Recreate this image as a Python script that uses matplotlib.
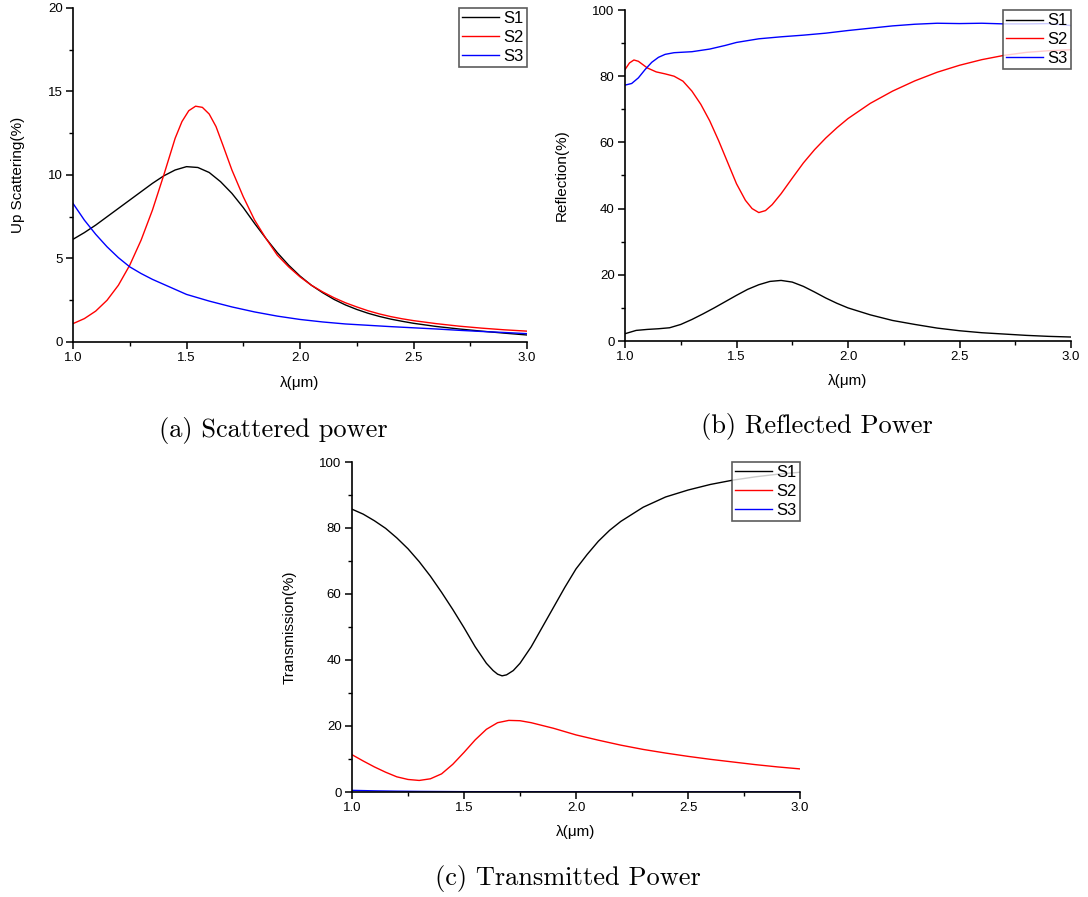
import matplotlib
matplotlib.use("Agg")
import matplotlib.pyplot as plt
from matplotlib.ticker import MultipleLocator, FormatStrFormatter

plt.rcParams['font.family'] = ['Liberation Sans', 'DejaVu Sans']

# ---------------- data ----------------
# (a) Up scattering
a_s1_x = [1.00, 1.05, 1.10, 1.15, 1.20, 1.25, 1.30, 1.35, 1.40, 1.45, 1.50, 1.55, 1.60, 1.65,
          1.70, 1.75, 1.80, 1.85, 1.90, 1.95, 2.00, 2.05, 2.10, 2.15, 2.20, 2.25, 2.30, 2.35,
          2.40, 2.45, 2.50, 2.60, 2.70, 2.80, 2.90, 3.00]
a_s1_y = [6.15, 6.55, 7.0, 7.5, 8.0, 8.5, 9.0, 9.5, 9.95, 10.3, 10.5, 10.45, 10.15, 9.6,
          8.9, 8.05, 7.1, 6.2, 5.35, 4.6, 3.95, 3.4, 2.95, 2.55, 2.22, 1.95, 1.72, 1.53,
          1.37, 1.24, 1.12, 0.93, 0.78, 0.65, 0.53, 0.42]
a_s2_x = [1.00, 1.05, 1.10, 1.15, 1.20, 1.25, 1.30, 1.35, 1.40, 1.45, 1.48, 1.51, 1.54, 1.57,
          1.60, 1.63, 1.66, 1.70, 1.75, 1.80, 1.85, 1.90, 1.95, 2.00, 2.05, 2.10, 2.15, 2.20,
          2.25, 2.30, 2.35, 2.40, 2.45, 2.50, 2.60, 2.70, 2.80, 2.90, 3.00]
a_s2_y = [1.1, 1.4, 1.85, 2.5, 3.4, 4.6, 6.1, 7.9, 10.0, 12.2, 13.2, 13.85, 14.12, 14.05,
          13.65, 12.9, 11.8, 10.3, 8.7, 7.3, 6.2, 5.2, 4.5, 3.9, 3.4, 3.0, 2.65, 2.35,
          2.1, 1.87, 1.68, 1.52, 1.39, 1.28, 1.1, 0.95, 0.83, 0.73, 0.65]
a_s3_x = [1.00, 1.05, 1.10, 1.15, 1.20, 1.25, 1.30, 1.35, 1.40, 1.45, 1.50, 1.60, 1.70, 1.80,
          1.90, 2.00, 2.10, 2.20, 2.30, 2.40, 2.50, 2.60, 2.70, 2.80, 2.90, 3.00]
a_s3_y = [8.3, 7.3, 6.45, 5.7, 5.05, 4.5, 4.1, 3.75, 3.45, 3.15, 2.85, 2.45, 2.1, 1.8,
          1.55, 1.35, 1.2, 1.08, 1.0, 0.92, 0.85, 0.78, 0.7, 0.63, 0.57, 0.5]

# (b) Reflection
b_s1_x = [1.00, 1.05, 1.10, 1.15, 1.20, 1.25, 1.30, 1.35, 1.40, 1.45, 1.50, 1.55, 1.60, 1.65,
          1.70, 1.75, 1.80, 1.85, 1.90, 1.95, 2.00, 2.10, 2.20, 2.30, 2.40, 2.50, 2.60, 2.70,
          2.80, 2.90, 3.00]
b_s1_y = [2.2, 3.2, 3.5, 3.7, 4.0, 5.0, 6.5, 8.2, 10.0, 11.9, 13.8, 15.6, 17.0, 18.0,
          18.3, 17.8, 16.5, 14.8, 13.0, 11.4, 10.0, 7.9, 6.2, 5.0, 3.9, 3.1, 2.5, 2.1,
          1.7, 1.4, 1.2]
b_s2_x = [1.00, 1.02, 1.04, 1.06, 1.08, 1.10, 1.14, 1.18, 1.22, 1.26, 1.30, 1.34, 1.38, 1.42,
          1.46, 1.50, 1.54, 1.57, 1.60, 1.63, 1.66, 1.70, 1.75, 1.80, 1.85, 1.90, 1.95, 2.00,
          2.10, 2.20, 2.30, 2.40, 2.50, 2.60, 2.70, 2.80, 2.90, 3.00]
b_s2_y = [82.0, 84.0, 84.9, 84.5, 83.5, 82.5, 81.3, 80.7, 80.0, 78.5, 75.5, 71.5, 66.5, 60.5,
          54.0, 47.5, 42.5, 40.0, 38.8, 39.4, 41.2, 44.5, 49.2, 53.8, 57.8, 61.3, 64.4, 67.2,
          71.8, 75.5, 78.6, 81.2, 83.3, 85.0, 86.3, 87.2, 87.7, 88.0]
b_s3_x = [1.00, 1.03, 1.06, 1.09, 1.12, 1.15, 1.18, 1.22, 1.30, 1.38, 1.45, 1.50, 1.60, 1.70,
          1.80, 1.90, 2.00, 2.10, 2.20, 2.30, 2.40, 2.50, 2.60, 2.70, 2.80, 2.90, 3.00]
b_s3_y = [77.3, 77.8, 79.5, 82.0, 84.2, 85.7, 86.6, 87.1, 87.4, 88.2, 89.3, 90.2, 91.3, 91.9,
          92.4, 93.0, 93.8, 94.5, 95.2, 95.7, 96.0, 95.9, 96.0, 95.8, 95.8, 95.9, 95.3]

# (c) Transmission
c_s1_x = [1.00, 1.05, 1.10, 1.15, 1.20, 1.25, 1.30, 1.35, 1.40, 1.45, 1.50, 1.55, 1.60, 1.63,
          1.65, 1.67, 1.69, 1.72, 1.75, 1.80, 1.85, 1.90, 1.95, 2.00, 2.05, 2.10, 2.15, 2.20,
          2.30, 2.40, 2.50, 2.60, 2.70, 2.80, 2.90, 3.00]
c_s1_y = [85.7, 84.2, 82.2, 79.9, 77.0, 73.7, 69.8, 65.4, 60.5, 55.3, 49.8, 44.0, 39.0, 36.8,
          35.7, 35.2, 35.5, 36.8, 39.0, 44.0, 50.0, 56.0, 62.0, 67.6, 72.0, 76.0, 79.3, 82.0,
          86.3, 89.4, 91.5, 93.2, 94.5, 95.5, 96.3, 96.9]
c_s2_x = [1.00, 1.05, 1.10, 1.15, 1.20, 1.25, 1.30, 1.35, 1.40, 1.45, 1.50, 1.55, 1.60, 1.65,
          1.70, 1.75, 1.80, 1.90, 2.00, 2.10, 2.20, 2.30, 2.40, 2.50, 2.60, 2.70, 2.80, 2.90, 3.00]
c_s2_y = [11.3, 9.4, 7.6, 6.0, 4.6, 3.8, 3.5, 4.0, 5.5, 8.4, 12.0, 15.8, 19.0, 21.0,
          21.7, 21.6, 21.0, 19.3, 17.3, 15.7, 14.2, 12.9, 11.8, 10.8, 9.9, 9.1, 8.3, 7.6, 7.0]
c_s3_x = [1.00, 1.10, 1.20, 1.30, 1.50, 2.00, 2.50, 3.00]
c_s3_y = [0.5, 0.35, 0.25, 0.18, 0.1, 0.05, 0.04, 0.03]

series_labels = ["S1", "S2", "S3"]
series_colors = ["#000000", "#ff0000", "#0000ff"]
captions = ["(a) Scattered power", "(b) Reflected Power", "(c) Transmitted Power"]
ylabels = ["Up Scattering(%)", "Reflection(%)", "Transmission(%)"]
xlabel = "\u03bb(\u03bcm)"

# ---------------- figure ----------------
W, H = 1088, 897
fig = plt.figure(figsize=(W / 100, H / 100), dpi=100)

def px_axes(l, r, t, b):
    return fig.add_axes([l / W, 1 - b / H, (r - l) / W, (b - t) / H])

panels = [
    dict(box=(73, 527, 8, 342), data=[(a_s1_x, a_s1_y), (a_s2_x, a_s2_y), (a_s3_x, a_s3_y)],
         ylim=(0, 20), ymaj=5, ymin=2.5, ylab_x=18, xlab_y=383, cap=(273, 430)),
    dict(box=(625, 1071, 10, 341), data=[(b_s1_x, b_s1_y), (b_s2_x, b_s2_y), (b_s3_x, b_s3_y)],
         ylim=(0, 100), ymaj=20, ymin=10, ylab_x=562, xlab_y=381, cap=(817, 426)),
    dict(box=(352, 800, 462, 792), data=[(c_s1_x, c_s1_y), (c_s2_x, c_s2_y), (c_s3_x, c_s3_y)],
         ylim=(0, 100), ymaj=20, ymin=10, ylab_x=290, xlab_y=832, cap=(568, 878)),
]

for i, p in enumerate(panels):
    l, r, t, b = p['box']
    ax = px_axes(l, r, t, b)
    for (xs, ys), lab, col in zip(p['data'], series_labels, series_colors):
        ax.plot(xs, ys, color=col, lw=1.0, label=lab)
    ax.set_xlim(1.0, 3.0)
    ax.set_ylim(*p['ylim'])
    ax.xaxis.set_major_locator(MultipleLocator(0.5))
    ax.xaxis.set_minor_locator(MultipleLocator(0.25))
    ax.xaxis.set_major_formatter(FormatStrFormatter('%.1f'))
    ax.yaxis.set_major_locator(MultipleLocator(p['ymaj']))
    ax.yaxis.set_minor_locator(MultipleLocator(p['ymin']))
    for s in ['top', 'right']:
        ax.spines[s].set_visible(False)
    for s in ['left', 'bottom']:
        ax.spines[s].set_linewidth(1.2)
    ax.tick_params(which='major', direction='out', length=5, width=1.1, labelsize=9.5, pad=2.5)
    ax.tick_params(which='minor', direction='out', length=3, width=1.0)
    ax.set_ylabel(ylabels[i], fontsize=11, va='center')
    ax.yaxis.set_label_coords((p['ylab_x'] - l) / (r - l), 0.5)
    ax.set_xlabel(xlabel, fontsize=11, va='center')
    ax.xaxis.set_label_coords(0.5, (b - p['xlab_y']) / (b - t))
    leg = ax.legend(loc='upper right', bbox_to_anchor=(1.0, 1.0), fontsize=12,
                    frameon=True, fancybox=False, borderaxespad=0.0, borderpad=0.2,
                    labelspacing=0.22, handlelength=2.2, handletextpad=0.25)
    leg.get_frame().set_edgecolor('#333333')
    leg.get_frame().set_linewidth(1.2)
    cx, cy = p['cap']
    fig.text(cx / W, 1 - cy / H, captions[i], fontsize=19, family='cmr10',
             ha='center', va='center')

fig.savefig("out.png", dpi=100)
